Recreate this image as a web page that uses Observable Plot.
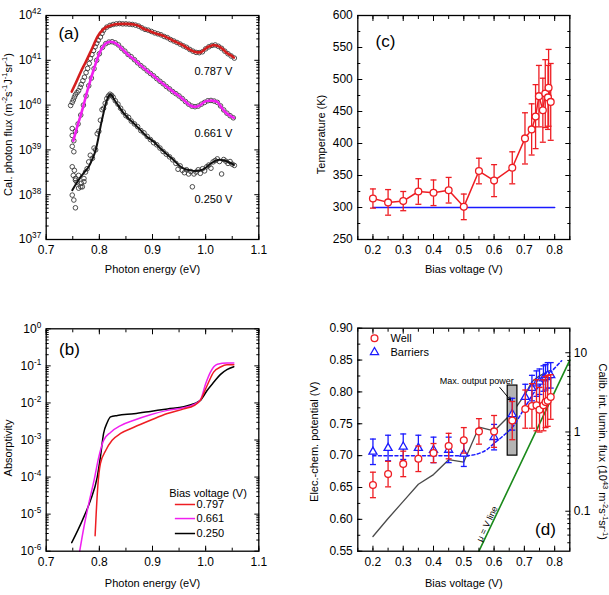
<!DOCTYPE html>
<html><head><meta charset="utf-8">
<script src="https://cdn.jsdelivr.net/npm/d3@7"></script>
<script src="https://cdn.jsdelivr.net/npm/@observablehq/plot@0.6"></script>
<style>
body{margin:0;background:#fff;}
#wrap{position:relative;width:609px;height:595px;overflow:hidden;background:#fff;}
</style></head><body><div id="wrap"></div><script>
// ---------- Panel (a): calibrated photon flux ----------
const fit787 = [[0.748,2.0e40],[0.755,3.0e40],[0.765,5.5e40],[0.775,9.5e40],[0.783,1.5e41],[0.790,2.3e41],[0.796,3.3e41],[0.808,5.0e41],[0.821,6.0e41],[0.830,6.4e41],[0.840,6.5e41],[0.852,6.5e41],[0.865,6.3e41],[0.875,5.8e41],[0.884,5.0e41],[0.893,4.6e41],[0.903,4.1e41],[0.915,3.7e41],[0.928,3.2e41],[0.940,2.7e41],[0.953,2.3e41],[0.962,2.0e41],[0.971,1.7e41],[0.984,1.5e41],[0.990,1.5e41],[0.997,1.7e41],[1.003,1.95e41],[1.010,2.1e41],[1.015,2.2e41],[1.022,2.1e41],[1.028,1.95e41],[1.034,1.7e41],[1.040,1.45e41],[1.047,1.3e41],[1.053,1.15e41]];
const circ787 = [[0.746,9.8e39],[0.749,1.15e40],[0.751,1.3e40],[0.753,1.5e40],[0.755,1.7e40],[0.758,1.9e40],[0.761,2.1e40],[0.764,2.5e40],[0.766,2.9e40],[0.769,3.5e40],[0.772,4.2e40],[0.775,5.3e40],[0.778,6.6e40],[0.781,8.5e40],[0.783,1.1e41],[0.786,1.35e41],[0.789,1.65e41],[0.792,2.0e41],[0.795,2.4e41],[0.798,2.8e41],[0.802,3.3e41],[0.805,4.0e41],[0.808,4.7e41],[0.814,5.5e41],[0.820,6.0e41],[0.826,6.3e41],[0.832,6.5e41],[0.838,6.6e41],[0.844,6.5e41],[0.850,6.5e41],[0.856,6.4e41],[0.862,6.3e41],[0.868,6.1e41],[0.874,5.8e41],[0.880,5.3e41],[0.886,4.9e41],[0.892,4.7e41],[0.898,4.4e41],[0.904,4.1e41],[0.910,3.9e41],[0.916,3.7e41],[0.922,3.4e41],[0.928,3.2e41],[0.934,2.9e41],[0.940,2.7e41],[0.946,2.5e41],[0.952,2.3e41],[0.958,2.1e41],[0.964,1.95e41],[0.970,1.75e41],[0.976,1.6e41],[0.982,1.5e41],[0.988,1.48e41],[0.994,1.55e41],[1.000,1.8e41],[1.006,2.0e41],[1.012,2.15e41],[1.018,2.2e41],[1.024,2.05e41],[1.030,1.85e41],[1.036,1.6e41],[1.042,1.4e41],[1.048,1.25e41],[1.054,1.12e41]];
const fit661 = [[0.751,1.6e39],[0.758,3.2e39],[0.765,6.0e39],[0.771,1.07e40],[0.777,2.0e40],[0.783,3.5e40],[0.790,6.5e40],[0.796,1.07e41],[0.802,1.6e41],[0.808,2.1e41],[0.815,2.5e41],[0.821,2.6e41],[0.828,2.5e41],[0.834,2.25e41],[0.843,1.8e41],[0.852,1.4e41],[0.865,1.05e41],[0.877,7.8e40],[0.890,5.8e40],[0.903,4.4e40],[0.915,3.3e40],[0.928,2.5e40],[0.940,1.95e40],[0.953,1.5e40],[0.962,1.2e40],[0.971,9.8e39],[0.978,9.2e39],[0.984,9.3e39],[0.990,1.0e40],[0.997,1.17e40],[1.005,1.25e40],[1.012,1.26e40],[1.018,1.22e40],[1.022,1.17e40],[1.028,9.5e39],[1.034,7.6e39],[1.040,6.5e39],[1.047,5.7e39],[1.053,5.2e39]];
const circ661 = [[0.749,3.0e39],[0.749,2.1e39],[0.752,1.6e39],[0.749,1.2e39],[0.752,9.1e38],[0.755,2.6e39],[0.760,3.8e39],[0.765,6.0e39],[0.770,1.0e40],[0.775,1.6e40],[0.780,2.7e40],[0.785,4.0e40],[0.790,6.5e40],[0.795,1.0e41],[0.800,1.4e41],[0.806,1.95e41],[0.812,2.35e41],[0.818,2.55e41],[0.824,2.6e41],[0.830,2.45e41],[0.836,2.2e41],[0.842,1.85e41],[0.848,1.6e41],[0.854,1.35e41],[0.860,1.2e41],[0.866,1.03e41],[0.872,8.8e40],[0.878,7.6e40],[0.884,6.7e40],[0.890,5.8e40],[0.896,5.1e40],[0.902,4.5e40],[0.908,3.9e40],[0.914,3.4e40],[0.920,3.0e40],[0.926,2.6e40],[0.932,2.3e40],[0.938,2.0e40],[0.944,1.8e40],[0.950,1.6e40],[0.956,1.4e40],[0.962,1.2e40],[0.968,1.05e40],[0.974,9.5e39],[0.980,9.2e39],[0.986,9.5e39],[0.992,1.05e40],[0.998,1.15e40],[1.004,1.25e40],[1.010,1.27e40],[1.016,1.23e40],[1.022,1.15e40],[1.028,9.6e39],[1.034,7.8e39],[1.040,6.6e39],[1.046,5.8e39],[1.052,5.2e39]];
const fit250 = [[0.749,1.26e38],[0.757,1.8e38],[0.765,2.5e38],[0.773,3.3e38],[0.780,4.2e38],[0.787,6.3e38],[0.793,9.8e38],[0.798,1.8e39],[0.802,3.2e39],[0.807,6.0e39],[0.812,1.07e40],[0.816,1.45e40],[0.820,1.74e40],[0.824,1.6e40],[0.827,1.38e40],[0.835,1.0e40],[0.846,6.5e39],[0.855,5.0e39],[0.865,3.9e39],[0.877,2.8e39],[0.890,1.95e39],[0.903,1.5e39],[0.915,1.07e39],[0.928,7.8e38],[0.940,5.9e38],[0.953,4.2e38],[0.962,3.7e38],[0.971,3.5e38],[0.980,3.4e38],[0.990,3.5e38],[1.000,4.0e38],[1.009,4.9e38],[1.018,5.7e38],[1.026,6.0e38],[1.034,5.9e38],[1.042,5.4e38],[1.047,5.1e38],[1.053,4.6e38]];
const circ250 = [[0.749,4.2e38],[0.753,3.5e38],[0.751,2.7e38],[0.755,2.3e38],[0.758,1.9e38],[0.761,2.7e38],[0.766,1.8e38],[0.749,9.8e37],[0.752,7.6e37],[0.755,5.1e37],[0.761,1.4e38],[0.768,1.5e38],[0.755,2.1e38],[0.765,1.5e38],[0.771,1.95e38],[0.771,2.3e38],[0.774,3.2e38],[0.777,3.8e38],[0.780,5.4e38],[0.783,7.6e38],[0.787,6.5e38],[0.790,1.1e39],[0.793,1.0e39],[0.796,2.3e39],[0.799,2.6e39],[0.802,4.6e39],[0.805,7.9e39],[0.808,8.5e39],[0.811,1.1e40],[0.814,1.4e40],[0.817,1.6e40],[0.820,1.75e40],[0.823,1.65e40],[0.826,1.5e40],[0.830,1.25e40],[0.835,1.05e40],[0.840,8.5e39],[0.845,7.0e39],[0.850,5.8e39],[0.855,5.3e39],[0.860,4.4e39],[0.866,3.8e39],[0.872,3.3e39],[0.878,2.7e39],[0.884,2.4e39],[0.890,2.0e39],[0.896,1.7e39],[0.902,1.45e39],[0.908,1.3e39],[0.914,1.1e39],[0.920,9.2e38],[0.926,8.0e38],[0.932,7.0e38],[0.938,6.0e38],[0.944,5.0e38],[0.948,3.7e38],[0.952,4.4e38],[0.956,3.5e38],[0.960,3.1e38],[0.964,3.6e38],[0.968,2.9e38],[0.972,3.3e38],[0.975,1.5e38],[0.978,2.9e38],[0.982,3.2e38],[0.986,3.6e38],[0.990,3.0e38],[0.994,3.8e38],[0.998,3.4e38],[1.002,4.2e38],[1.006,4.6e38],[1.010,3.9e38],[1.014,5.4e38],[1.018,5.8e38],[1.022,6.3e38],[1.026,5.5e38],[1.030,2.9e38],[1.034,6.1e38],[1.038,5.6e38],[1.042,5.0e38],[1.046,5.5e38],[1.050,4.8e38],[1.054,4.5e38]];
const labelsA = ["0.787 V", "0.661 V", "0.250 V"];

// ---------- Panel (b): absorptivity ----------
const abs797 = [[0.792,2.6e-6],[0.794,1.0e-5],[0.797,5.4e-5],[0.802,2.3e-4],[0.812,5.2e-4],[0.824,9.8e-4],[0.840,1.5e-3],[0.865,2.2e-3],[0.896,3.4e-3],[0.928,5.2e-3],[0.959,6.9e-3],[0.978,8.5e-3],[0.990,1.17e-2],[1.003,3.0e-2],[1.015,6.8e-2],[1.028,9.3e-2],[1.040,1.07e-1],[1.053,1.07e-1]];
const abs661 = [[0.763,1.0e-6],[0.771,4.5e-6],[0.780,1.9e-5],[0.790,8.1e-5],[0.799,3.5e-4],[0.808,9.8e-4],[0.821,1.6e-3],[0.840,2.45e-3],[0.865,3.4e-3],[0.896,4.8e-3],[0.928,6.3e-3],[0.959,7.4e-3],[0.978,9.1e-3],[0.990,1.2e-2],[1.000,3.3e-2],[1.009,6.8e-2],[1.022,1.1e-1],[1.040,1.2e-1],[1.053,1.2e-1]];
const abs250 = [[0.748,1.7e-6],[0.768,6.8e-6],[0.783,2.3e-5],[0.796,1.0e-4],[0.802,3.5e-4],[0.808,1.5e-3],[0.815,3.0e-3],[0.821,4.2e-3],[0.834,4.6e-3],[0.865,5.1e-3],[0.896,5.9e-3],[0.928,6.9e-3],[0.959,7.9e-3],[0.978,9.5e-3],[0.990,1.17e-2],[1.003,2.2e-2],[1.015,3.6e-2],[1.028,5.9e-2],[1.040,7.9e-2],[1.053,9.5e-2]];
const legendB = ["0.797", "0.661", "0.250"];

// ---------- Panel (c): temperature ----------
const tempV  = [0.2,0.25,0.3,0.35,0.4,0.45,0.5,0.55,0.6,0.66,0.702,0.724,0.737,0.748,0.761,0.769,0.778,0.780,0.787];
const tempK  = [314,308,310,325,323,327,301,357,342,362,408,422,442,474,452,478,472,487,465];
const tempErr= [15,20,15,20,20,20,20,20,25,25,40,40,50,48,50,53,50,60,60];
const ambientV = [0.2, 0.8];
const ambientK = [300, 300];

// ---------- Panel (d): electro-chemical potential ----------
const wellV   = [0.2,0.25,0.3,0.35,0.4,0.45,0.5,0.55,0.6,0.66,0.703,0.725,0.74,0.75,0.763,0.77,0.777,0.787];
const wellMu  = [0.654,0.671,0.687,0.695,0.704,0.715,0.724,0.738,0.738,0.755,0.773,0.778,0.779,0.772,0.779,0.784,0.786,0.792];
const wellErr = [0.02,0.02,0.02,0.02,0.015,0.02,0.02,0.02,0.025,0.03,0.03,0.035,0.04,0.035,0.04,0.04,0.04,0.035];
const barV    = [0.2,0.25,0.3,0.35,0.4,0.45,0.5,0.6,0.66,0.703,0.725,0.74,0.75,0.763,0.77,0.777,0.787];
const barMu   = [0.706,0.712,0.714,0.712,0.709,0.709,0.703,0.729,0.765,0.792,0.806,0.813,0.816,0.821,0.823,0.826,0.826];
const barErr  = [0.02,0.02,0.02,0.02,0.02,0.02,0.02,0.02,0.025,0.02,0.02,0.02,0.02,0.02,0.02,0.02,0.02];
const dashV   = [0.2,0.3,0.4,0.5,0.53,0.553,0.575,0.597,0.63,0.663,0.696,0.729,0.773,0.823];
const dashMu  = [0.70,0.70,0.70,0.70,0.701,0.704,0.709,0.718,0.731,0.746,0.771,0.797,0.823,0.849];
const fluxV   = [0.2,0.25,0.3,0.35,0.4,0.45,0.5,0.55,0.6,0.66,0.703,0.725,0.74,0.75,0.763,0.77,0.777,0.787];
const fluxL   = [0.048,0.081,0.133,0.219,0.29,0.447,0.417,1.15,1.03,1.75,3.0,4.3,4.8,5.1,5.4,5.6,5.8,6.0];
const muEqV   = [0.55, 0.85];
const maxPowerBox = [{v1:0.645, v2:0.677, mu1:0.70, mu2:0.81}];

// tick values
const ticksA = [1e37,1e38,1e39,1e40,1e41,1e42];
const ticksB = [1e-6,1e-5,1e-4,1e-3,1e-2,1e-1,1];
const ticksE = [0.7,0.8,0.9,1.0,1.1];
const ticksV = [0.2,0.3,0.4,0.5,0.6,0.7,0.8];
const ticksT = [250,300,350,400,450,500,550,600];
const ticksMu = [0.55,0.60,0.65,0.70,0.75,0.80,0.85,0.90];
const ticksFlux = [0.1,1,10];
const fluxLabels = ["0.1","1","10"];

// ---------- helpers ----------
const FONT = "'Liberation Sans', Arial, Helvetica, sans-serif";
const RED = "#ee1d23", MAG = "#f020f0", BLUE = "#1a1aff";
const minorLog = (lo, hi) => { const a = []; for (let e = lo; e < hi; e++) for (let k = 2; k <= 9; k++) a.push(k * Math.pow(10, e)); return a; };
const minorLin = (lo, hi, step) => d3.range(Math.round((hi - lo) / step) + 1).map(i => +(lo + i * step).toFixed(4));
const supTick = d => "10^{" + Math.round(Math.log10(d)) + "}";
const blank = () => "";
const cap = {draw(ctx, size) { const w = Math.sqrt(size / Math.PI); ctx.moveTo(-w, 0); ctx.lineTo(w, 0); }};

function axes(o) {
  const m = [];
  m.push(Plot.axisX({anchor:"bottom", ticks:o.xt, tickSize:-5, tickPadding:11, tickFormat:o.xf, label:null}));
  m.push(Plot.axisX({anchor:"top", ticks:o.xt, tickSize:-5, tickFormat:blank, label:null}));
  m.push(Plot.axisX({anchor:"bottom", ticks:o.xm, tickSize:-3, tickFormat:blank, label:null}));
  m.push(Plot.axisX({anchor:"top", ticks:o.xm, tickSize:-3, tickFormat:blank, label:null}));
  m.push(Plot.axisY({anchor:"left", ticks:o.yt, tickSize:-5, tickPadding:10, tickFormat:o.yf, label:null}));
  m.push(Plot.axisY({anchor:"left", ticks:o.ym, tickSize:-3, tickFormat:blank, label:null}));
  if (o.right !== false) {
    m.push(Plot.axisY({anchor:"right", ticks:o.yt, tickSize:-5, tickFormat:blank, label:null}));
    m.push(Plot.axisY({anchor:"right", ticks:o.ym, tickSize:-3, tickFormat:blank, label:null}));
  }
  m.push(Plot.frame({strokeWidth:1.3}));
  return m;
}
const style = {fontFamily: FONT, fontSize: "12px", background: "transparent", overflow: "visible", color: "#000"};
const title = (s, opt) => Plot.text([s], {text: d => d, fontSize: 11, textAnchor: "middle", lineAnchor: "middle", ...opt});

const wrap = document.getElementById("wrap");
const NS = "http://www.w3.org/2000/svg";
function supify(root) {
  root.querySelectorAll("text").forEach(t => {
    const targets = t.querySelector("tspan") ? [...t.querySelectorAll("tspan")] : [t];
    targets.forEach(el => {
      const s = el.textContent;
      if (!s.includes("^{")) return;
      const fs = parseFloat(getComputedStyle(el).fontSize) || 12;
      while (el.firstChild) el.removeChild(el.firstChild);
      const re = /\^\{([^}]*)\}/g; let last = 0, m, raised = false;
      const add = (txt, isSup) => {
        const sp = document.createElementNS(NS, "tspan");
        sp.textContent = txt;
        if (isSup) { sp.setAttribute("font-size", (fs * 0.68).toFixed(1)); if (!raised) sp.setAttribute("dy", (-fs * 0.42).toFixed(1)); }
        else if (raised) sp.setAttribute("dy", (fs * 0.42).toFixed(1));
        el.appendChild(sp); raised = isSup;
      };
      while ((m = re.exec(s))) { if (m.index > last) add(s.slice(last, m.index), false); add(m[1], true); last = re.lastIndex; }
      if (last < s.length) add(s.slice(last), false);
    });
  });
}
function place(svg, left, top) {
  svg.style.position = "absolute"; svg.style.left = left + "px"; svg.style.top = top + "px";
  wrap.appendChild(svg); supify(svg);
}
const X = d => d[0], Y = d => d[1];
const circStyle = {x: X, y: Y, r: 2.3, stroke: "#3a3a3a", strokeWidth: 0.9, fill: "none"};

// ---------- (a) ----------
place(Plot.plot({
  width: 300, height: 300, marginLeft: 45.7, marginRight: 41.7, marginTop: 15, marginBottom: 61,
  style,
  x: {domain: [0.7, 1.1], axis: null},
  y: {type: "log", domain: [1e37, 1e42], axis: null},
  marks: [
    Plot.dot(circ250, circStyle),
    Plot.dot(circ661, circStyle),
    Plot.dot(circ787, circStyle),
    Plot.line(fit250, {x: X, y: Y, stroke: "#111", strokeWidth: 2, curve: "monotone-x"}),
    Plot.line(fit661, {x: X, y: Y, stroke: MAG, strokeWidth: 2.6, curve: "monotone-x"}),
    Plot.line(fit787, {x: X, y: Y, stroke: "#d41e1e", strokeWidth: 2.6, curve: "monotone-x"}),
    Plot.text(labelsA, {text: d => d, x: 0.979, y: [5.5e40, 2.3e39, 7.8e37], textAnchor: "start", fontSize: 11}),
    ...axes({xt: ticksE, xm: minorLin(0.7, 1.1, 0.05), xf: d => d.toFixed(1), yt: ticksA, ym: minorLog(37, 42), yf: supTick}),
    title("Photon energy (eV)", {frameAnchor: "bottom", dy: 30}),
    title("Cal. photon flux (m^{-2}s^{-1}J^{-1}sr^{-1})", {frameAnchor: "left", rotate: -90, dx: -37.7, dy: -3}),
    title("(a)", {frameAnchor: "top-left", dx: 22.6, dy: 18.3, fontSize: 17})
  ]
}), 0, 0);

// ---------- (b) ----------
place(Plot.plot({
  width: 300, height: 295, marginLeft: 45.7, marginRight: 41.7, marginTop: 28.3, marginBottom: 44.3,
  style,
  x: {domain: [0.7, 1.1], axis: null},
  y: {type: "log", domain: [1e-6, 1], axis: null},
  marks: [
    Plot.line(abs250, {x: X, y: Y, stroke: "#000", strokeWidth: 1.5, curve: "monotone-x"}),
    Plot.line(abs661, {x: X, y: Y, stroke: MAG, strokeWidth: 1.5, curve: "monotone-x"}),
    Plot.line(abs797, {x: X, y: Y, stroke: RED, strokeWidth: 1.5, curve: "monotone-x"}),
    Plot.ruleY([1.82e-5], {x1: 0.943, x2: 0.981, stroke: RED, strokeWidth: 1.5}),
    Plot.ruleY([7.6e-6], {x1: 0.943, x2: 0.981, stroke: MAG, strokeWidth: 1.5}),
    Plot.ruleY([3.0e-6], {x1: 0.943, x2: 0.981, stroke: "#000", strokeWidth: 1.5}),
    Plot.text(legendB, {text: d => d, x: 0.983, y: [1.82e-5, 7.6e-6, 3.0e-6], textAnchor: "start", fontSize: 11}),
    title("Bias voltage (V)", {frameAnchor: "top-left", dx: 161.8, dy: 164.7}),
    ...axes({xt: ticksE, xm: minorLin(0.7, 1.1, 0.05), xf: d => d.toFixed(1), yt: ticksB, ym: minorLog(-6, 0), yf: supTick}),
    title("Photon energy (eV)", {frameAnchor: "bottom", dy: 32}),
    title("Absorptivity", {frameAnchor: "left", rotate: -90, dx: -37.4, dy: 8}),
    title("(b)", {frameAnchor: "top-left", dx: 23.3, dy: 21, fontSize: 17})
  ]
}), 0, 300);

// ---------- (c) ----------
const tempRows = tempV.map((v, i) => ({v, k: tempK[i], lo: tempK[i] - tempErr[i], hi: tempK[i] + tempErr[i]}));
place(Plot.plot({
  width: 309, height: 300, marginLeft: 57.3, marginRight: 39.7, marginTop: 15, marginBottom: 61,
  style,
  x: {domain: [0.15, 0.85], axis: null},
  y: {domain: [250, 600], axis: null},
  marks: [
    Plot.line(ambientV.map((v, i) => [v, ambientK[i]]), {x: X, y: Y, stroke: BLUE, strokeWidth: 1.6}),
    Plot.ruleX(tempRows, {x: "v", y1: "lo", y2: "hi", stroke: RED, strokeWidth: 1.3}),
    Plot.dot(tempRows, {x: "v", y: "lo", symbol: cap, r: 3, stroke: RED, strokeWidth: 1.3}),
    Plot.dot(tempRows, {x: "v", y: "hi", symbol: cap, r: 3, stroke: RED, strokeWidth: 1.3}),
    Plot.line(tempRows, {x: "v", y: "k", stroke: RED, strokeWidth: 1.5}),
    Plot.dot(tempRows, {x: "v", y: "k", r: 3.4, stroke: RED, strokeWidth: 1.3, fill: "white"}),
    ...axes({xt: ticksV, xm: minorLin(0.15, 0.85, 0.05), xf: d => d.toFixed(1), yt: ticksT, ym: minorLin(250, 600, 25), yf: d => String(d)}),
    title("Bias voltage (V)", {frameAnchor: "bottom", dy: 30}),
    title("Temperature (K)", {frameAnchor: "left", rotate: -90, dx: -36.6, dy: 7}),
    title("(c)", {frameAnchor: "top-left", dx: 27.7, dy: 25.7, fontSize: 17})
  ]
}), 300, 0);

// ---------- (d) right axis (luminescence flux) ----------
place(Plot.plot({
  width: 309, height: 295, marginLeft: 57.3, marginRight: 39.7, marginTop: 27.7, marginBottom: 44.3,
  style,
  x: {domain: [0.15, 0.85], axis: null},
  y: {type: "log", domain: [0.0313, 20.4], axis: null},
  marks: [
    Plot.line(fluxV.map((v, i) => [v, fluxL[i]]), {x: X, y: Y, stroke: "#4a4a4a", strokeWidth: 1.3}),
    Plot.axisY({anchor: "right", ticks: ticksFlux, tickSize: -5, tickPadding: 9, tickFormat: d => fluxLabels[ticksFlux.indexOf(d)], label: null}),
    Plot.axisY({anchor: "right", ticks: minorLog(-2, 1).filter(d => d > 0.0313 && d < 20.4), tickSize: -3, tickFormat: blank, label: null}),
    title("Calib. int. lumin. flux (10^{43} m^{-2}s^{-1}sr^{-1})", {frameAnchor: "right", rotate: 90, dx: 32.4, dy: 12})
  ]
}), 300, 300);

// ---------- (d) left axis ----------
const wellRows = wellV.map((v, i) => ({v, mu: wellMu[i], lo: wellMu[i] - wellErr[i], hi: wellMu[i] + wellErr[i]}));
const barRows = barV.map((v, i) => ({v, mu: barMu[i], lo: barMu[i] - barErr[i], hi: barMu[i] + barErr[i]}));
place(Plot.plot({
  width: 309, height: 295, marginLeft: 57.3, marginRight: 39.7, marginTop: 27.7, marginBottom: 44.3,
  style,
  x: {domain: [0.15, 0.85], axis: null},
  y: {domain: [0.55, 0.90], axis: null},
  marks: [
    Plot.rect(maxPowerBox, {x1: "v1", x2: "v2", y1: "mu1", y2: "mu2", fill: "#b4b4b4", stroke: "#000", strokeWidth: 1.2}),
    Plot.line(muEqV.map(v => [v, v]), {x: X, y: Y, stroke: "#1b8a1b", strokeWidth: 1.6}),
    Plot.line(dashV.map((v, i) => [v, dashMu[i]]), {x: X, y: Y, stroke: BLUE, strokeWidth: 1.5, strokeDasharray: "3,2.5", curve: "monotone-x"}),
    Plot.ruleX(barRows, {x: "v", y1: "lo", y2: "hi", stroke: BLUE, strokeWidth: 1.3}),
    Plot.dot(barRows, {x: "v", y: "lo", symbol: cap, r: 3, stroke: BLUE, strokeWidth: 1.3}),
    Plot.dot(barRows, {x: "v", y: "hi", symbol: cap, r: 3, stroke: BLUE, strokeWidth: 1.3}),
    Plot.dot(barRows, {x: "v", y: "mu", symbol: "triangle", r: 3.0, stroke: BLUE, strokeWidth: 1.3, fill: "white"}),
    Plot.ruleX(wellRows, {x: "v", y1: "lo", y2: "hi", stroke: RED, strokeWidth: 1.3}),
    Plot.dot(wellRows, {x: "v", y: "lo", symbol: cap, r: 3, stroke: RED, strokeWidth: 1.3}),
    Plot.dot(wellRows, {x: "v", y: "hi", symbol: cap, r: 3, stroke: RED, strokeWidth: 1.3}),
    Plot.dot(wellRows, {x: "v", y: "mu", r: 3.4, stroke: RED, strokeWidth: 1.3, fill: "white"}),
    // legend
    Plot.dot([0], {frameAnchor: "top-left", dx: 16.7, dy: 10, r: 3.4, stroke: RED, strokeWidth: 1.3, fill: "white"}),
    Plot.dot([0], {frameAnchor: "top-left", dx: 16.7, dy: 24, symbol: "triangle", r: 3.0, stroke: BLUE, strokeWidth: 1.3, fill: "white"}),
    title("Well", {frameAnchor: "top-left", dx: 32.7, dy: 10, textAnchor: "start"}),
    title("Barriers", {frameAnchor: "top-left", dx: 32.7, dy: 24, textAnchor: "start"}),
    // annotations
    title("Max. output power", {frameAnchor: "top-left", dx: 82, dy: 53.3, textAnchor: "start", fontSize: 9}),
    Plot.arrow([0], {x1: 0.619, y1: 0.807, x2: 0.654, y2: 0.787, stroke: "#000", strokeWidth: 1, headLength: 5}),
    Plot.text(["μ = V line"], {text: d => d, x: 0.584, y: 0.593, rotate: -64.7, fontSize: 9, dx: -2}),
    ...axes({xt: ticksV, xm: minorLin(0.15, 0.85, 0.05), xf: d => d.toFixed(1), yt: ticksMu, ym: minorLin(0.55, 0.9, 0.025), yf: d => d.toFixed(2), right: false}),
    title("Bias voltage (V)", {frameAnchor: "bottom", dy: 32}),
    title("Elec.-chem. potential (V)", {frameAnchor: "left", rotate: -90, dx: -43.3, dy: 2}),
    title("(d)", {frameAnchor: "bottom-right", dx: -24.3, dy: -21.4, fontSize: 17})
  ]
}), 300, 300);
</script></body></html>
